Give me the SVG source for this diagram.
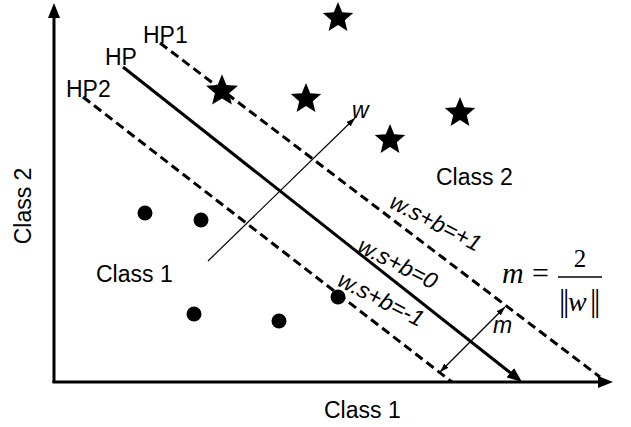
<svg xmlns="http://www.w3.org/2000/svg" width="631" height="427" viewBox="0 0 631 427">
<style>
.lbl{font-family:"Liberation Sans",Arial,sans-serif;font-size:23px;fill:#000}
.it{font-family:"Liberation Sans",Arial,sans-serif;font-size:23px;font-style:italic;fill:#000}
.math{font-family:"Liberation Serif","Times New Roman",serif;fill:#000}
.axis{stroke:#000;stroke-width:3;fill:none}
.dash{stroke:#000;stroke-width:3;fill:none;stroke-dasharray:9 5}
.thin{stroke:#000;stroke-width:1.2;fill:none}
</style>
<defs>
<marker id="big" viewBox="0 0 15 12" refX="5" refY="6" markerWidth="15" markerHeight="12" markerUnits="userSpaceOnUse" orient="auto">
<path d="M0,0 L15,6 L0,12 z" fill="#000"/>
</marker>
<marker id="small" viewBox="0 0 9 6" refX="9" refY="3" markerWidth="9" markerHeight="6" markerUnits="userSpaceOnUse" orient="auto-start-reverse">
<path d="M0,0 L9,3 L0,6 z" fill="#000"/>
</marker>
<path id="star" d="M0,-16 L4.2,-5.8 L15.2,-4.9 L6.8,2.2 L9.4,12.9 L0,7.1 L-9.4,12.9 L-6.8,2.2 L-15.2,-4.9 L-4.2,-5.8 Z" fill="#000"/>
</defs>
<g id="axes">
<line class="axis" x1="54" y1="383" x2="54" y2="13" marker-end="url(#big)"/>
<line class="axis" x1="52.5" y1="382" x2="603" y2="382" marker-end="url(#big)"/>
</g>
<g id="connectors">
<line id="hp" class="axis" x1="123" y1="67" x2="514.2" y2="375.8" marker-end="url(#big)"/>
<line id="hp1" class="dash" x1="160" y1="43" x2="600" y2="377"/>
<line id="hp2" class="dash" x1="83" y1="97" x2="452" y2="382"/>
<line id="w-arrow" class="thin" x1="208" y1="261" x2="355" y2="118" marker-end="url(#small)"/>
<line id="m-arrow" class="thin" x1="440" y1="372" x2="505" y2="307" marker-start="url(#small)" marker-end="url(#small)"/>
</g>
<g id="class2-points">
<use href="#star" transform="translate(222 91) scale(1.05)"/>
<use href="#star" transform="translate(306 99)"/>
<use href="#star" transform="translate(338 18)"/>
<use href="#star" transform="translate(460 113)"/>
<use href="#star" transform="translate(390 140)"/>
</g>
<g id="class1-points">
<circle cx="145" cy="213" r="7.5"/>
<circle cx="201" cy="220" r="7.5"/>
<circle cx="194" cy="314" r="7.5"/>
<circle cx="279" cy="321" r="7.5"/>
<circle cx="338" cy="297" r="7.5"/>
</g>
<g id="labels">
<text class="lbl" x="143" y="43">HP1</text>
<text class="lbl" x="105" y="65">HP</text>
<text class="lbl" x="66" y="97">HP2</text>
<text class="lbl" x="436" y="185">Class 2</text>
<text class="lbl" x="96" y="282">Class 1</text>
<text class="lbl" x="324" y="418">Class 1</text>
<text class="lbl" x="31" y="206" text-anchor="middle" transform="rotate(-90 31 206)">Class 2</text>
<text class="it" x="352" y="118">w</text>
<text class="it" x="493" y="333">m</text>
<text class="it" x="388" y="207" transform="rotate(27 388 207)">w.s+b=+1</text>
<text class="it" x="356" y="251" transform="rotate(27 356 251)">w.s+b=0</text>
<text class="it" x="336" y="285" transform="rotate(27 336 285)">w.s+b=-1</text>
</g>
<g id="formula">
<text class="math" x="502" y="283" font-size="30" font-style="italic">m</text>
<text class="math" x="532" y="283" font-size="30">=</text>
<text class="math" x="580" y="267" font-size="25" text-anchor="middle">2</text>
<line x1="558" y1="277" x2="602" y2="277" stroke="#000" stroke-width="1.5"/>
<text class="math" x="559" y="311" font-size="32" letter-spacing="-2.4">||</text>
<text class="math" x="568" y="311" font-size="28" font-style="italic">w</text>
<text class="math" x="590" y="311" font-size="32" letter-spacing="-2.4">||</text>
</g>
</svg>
